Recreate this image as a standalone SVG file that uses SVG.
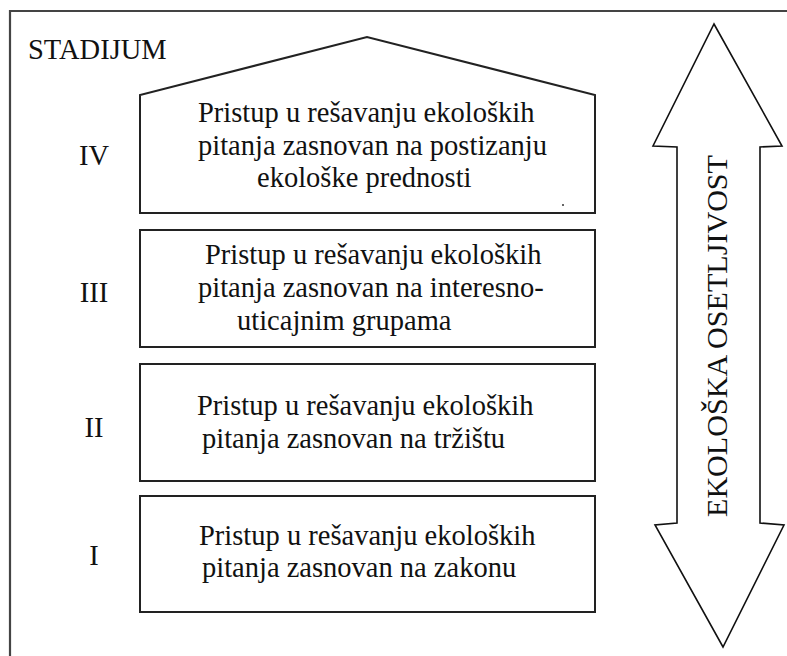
<svg xmlns="http://www.w3.org/2000/svg" width="787" height="656" viewBox="0 0 787 656">
  <style>
    .frame { fill: none; stroke: #444; stroke-width: 2.2; }
    .box { fill: #fff; stroke: #222; stroke-width: 2; }
    .arrow { fill: #fff; stroke: #111; stroke-width: 1.6; stroke-linejoin: miter; }
    text { font-family: "Liberation Serif", "Times New Roman", serif; font-size: 28.5px; fill: #111; }
    .num { text-anchor: middle; }
  </style>
  <rect width="787" height="656" fill="#fff"/>

  <!-- outer frame (open to the right and bottom) -->
  <path class="frame" d="M10,660 L10,11 L790,11"/>

  <text x="28" y="59">STADIJUM</text>

  <!-- stage labels -->
  <g id="stage-labels">
    <text class="num" x="94" y="165">IV</text>
    <text class="num" x="94" y="302">III</text>
    <text class="num" x="94" y="437">II</text>
    <text class="num" x="94" y="565">I</text>
  </g>

  <!-- stage IV: roofed box -->
  <g id="stage-4">
    <path class="box" d="M140,213 L140,95 L367,37 L595,95 L595,213 Z"/>
    <text x="198" y="122">Pristup u rešavanju ekoloških</text>
    <text x="198" y="155">pitanja zasnovan na postizanju</text>
    <text x="257" y="187">ekološke prednosti</text>
    <circle cx="563" cy="205" r="1" fill="#333"/>
  </g>

  <!-- stage III -->
  <g id="stage-3">
    <rect class="box" x="140" y="230" width="455" height="117"/>
    <text x="205" y="264">Pristup u rešavanju ekoloških</text>
    <text x="198" y="297">pitanja zasnovan na interesno-</text>
    <text x="237" y="330">uticajnim grupama</text>
  </g>

  <!-- stage II -->
  <g id="stage-2">
    <rect class="box" x="140" y="364" width="455" height="117"/>
    <text x="197" y="415">Pristup u rešavanju ekoloških</text>
    <text x="202" y="448">pitanja zasnovan na tržištu</text>
  </g>

  <!-- stage I -->
  <g id="stage-1">
    <rect class="box" x="140" y="496" width="455" height="116"/>
    <text x="199" y="545">Pristup u rešavanju ekoloških</text>
    <text x="202" y="577">pitanja zasnovan na zakonu</text>
  </g>

  <!-- double-headed sensitivity arrow -->
  <g id="connectors">
    <path class="arrow" d="M714,24 L782,146 L760,147 L760,523 L784,525 L723,647 L655,525 L677,523 L677,147 L653,146 Z"/>
    <text transform="translate(727,517) rotate(-90)" textLength="362" lengthAdjust="spacingAndGlyphs">EKOLOŠKA OSETLJIVOST</text>
  </g>
</svg>
